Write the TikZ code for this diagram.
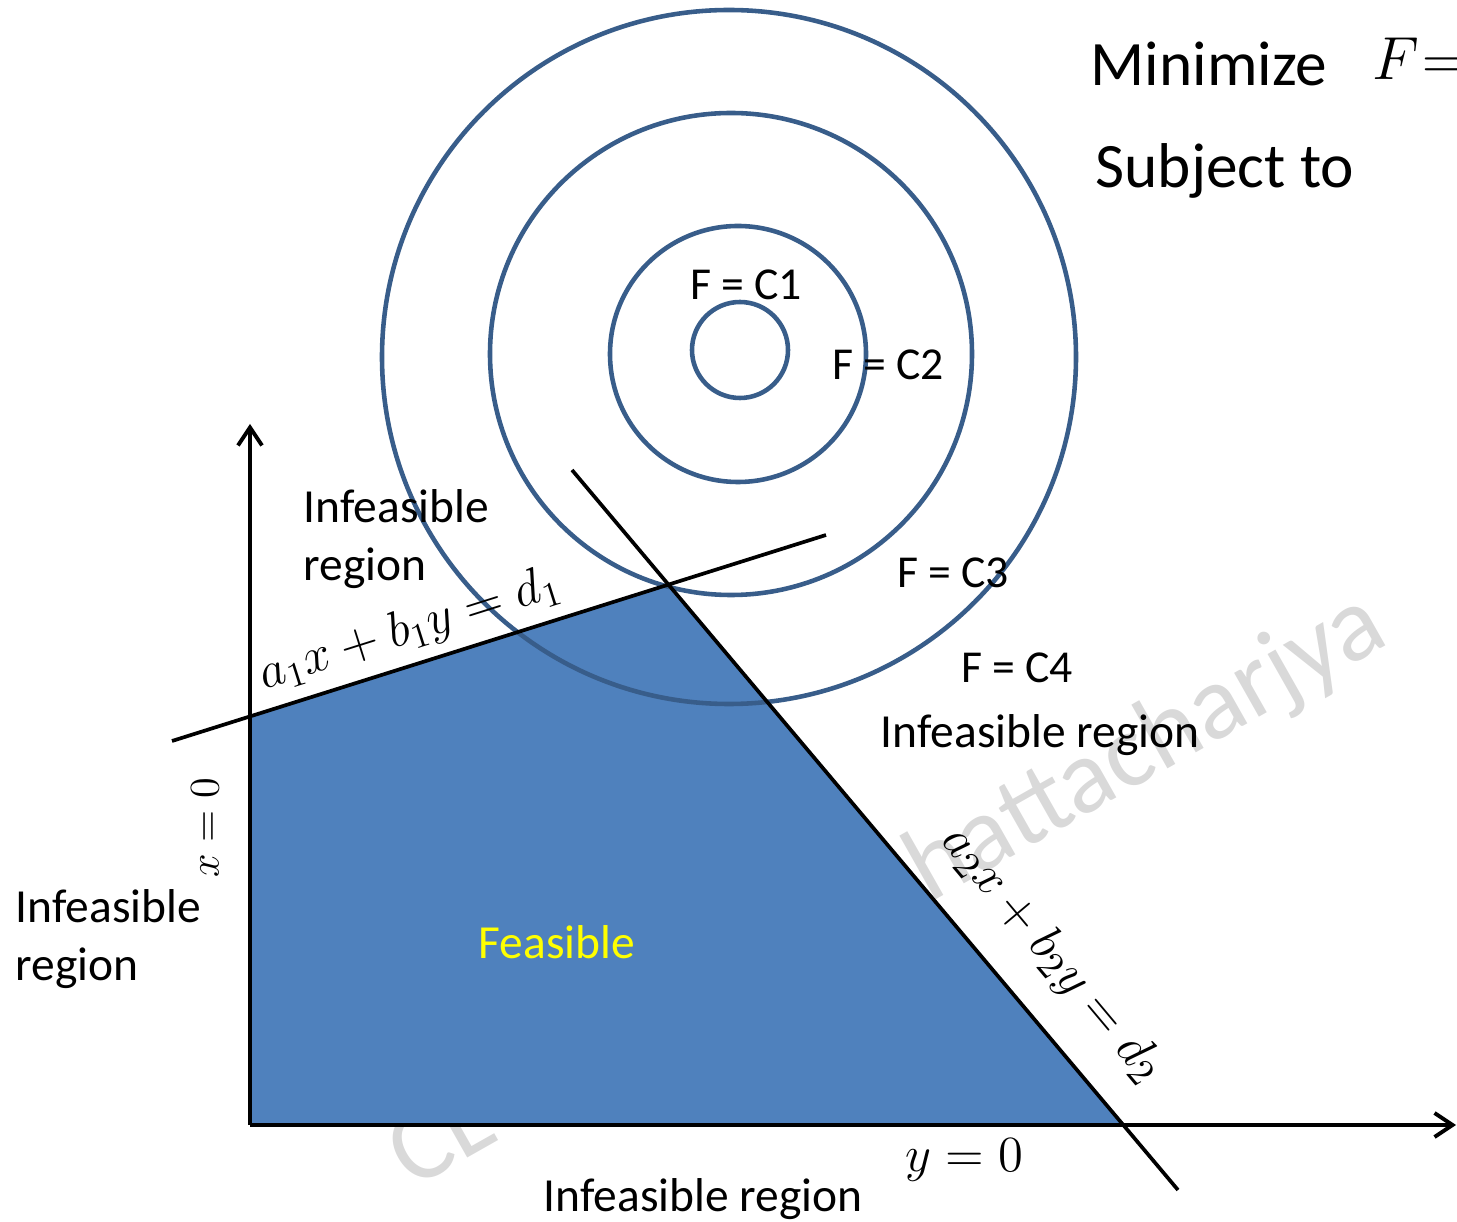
\documentclass[tikz,border=0pt]{standalone}
\usepackage{fontspec}
\setmainfont{Carlito}
\usetikzlibrary{arrows.meta}
\definecolor{feasBlue}{HTML}{4F81BD}
\definecolor{ringBlue}{HTML}{385D8A}
\definecolor{markGray}{HTML}{D9D9D9}
\definecolor{feasYellow}{HTML}{FFFF00}

\begin{document}
\begin{tikzpicture}[
  x=0.01cm, y=-0.01cm,
  txt/.style={font=\fontsize{13.5}{16.5}\selectfont,inner sep=0pt},
  ctxt/.style={font=\fontsize{13}{16}\selectfont,inner sep=0pt},
  bigtxt/.style={font=\fontsize{18}{21}\selectfont,inner sep=0pt},
  eqn/.style={font=\fontsize{14.5}{17}\selectfont,inner sep=0pt},
  ring/.style={draw=ringBlue,line width=1.3pt},
  cons/.style={draw=black,line width=1.05pt},
  axis/.style={draw=black,line width=1.1pt,-{Straight Barb[length=1.8mm,width=2.4mm]}},
  wmark/.style={font=\fontsize{30}{36}\selectfont,text=markGray,rotate=29.5,inner sep=0pt}
]
  \useasboundingbox (0,0) rectangle (1457,1222);

  % watermark, under the feasible set
  \node[wmark,anchor=base west] (wmA) at (412,1190) {CL};
  \node[wmark,anchor=base east] (wmB) at (1392,642) {hattacharjya};

  \coordinate (O) at (250,1125);
  \coordinate (yTop) at (250,424);
  \coordinate (xEnd) at (1456,1125);
  \coordinate (l1s) at (172,741);
  \coordinate (l1e) at (826,535);
  \coordinate (l2s) at (572,470);
  \coordinate (l2e) at (1178,1190);
  \coordinate (pA) at (250,716);
  \coordinate (pK) at (668,585);
  \coordinate (pB) at (1125,1125);

  \fill[feasBlue] (O) -- (pA) -- (pK) -- (pB) -- cycle;

  % contours of F
  \foreach \cx/\cy/\r in {740/350/48, 738/354/128, 731/354/241, 729/357/347}
    \draw[ring] (\cx,\cy) circle[radius=\r];

  \draw[cons] (l1s) -- (l1e);
  \draw[cons] (l2s) -- (l2e);
  \draw[axis] (O) -- (yTop);
  \draw[axis] (O) -- (xEnd);

  \node[bigtxt,anchor=base west] (minz) at (1090,86) {Minimize};
  \node[bigtxt,anchor=base west,font=\fontsize{16}{19}\selectfont] (fObj) at (1372,80) {$F\mkern1mu{=}$};
  \node[bigtxt,anchor=base west] (subj) at (1095,188) {Subject to};

  \foreach \x/\y/\k in {746/300/1, 888/380/2, 953/588/3, 1017/683/4}
    \node[ctxt,anchor=base] (fc\k) at (\x,\y) {F = C\k};

  \node[txt,anchor=west,align=left] (infUp) at (303,539) {Infeasible\\region};
  \node[txt,anchor=west,align=left] (infLeft) at (15,939) {Infeasible\\region};
  \node[txt,anchor=base west] (infRight) at (880,748) {Infeasible region};
  \node[txt,anchor=base west] (infLow) at (543,1211) {Infeasible region};
  \node[txt,text=feasYellow] (feas) at (557,942) {Feasible};

  \node[eqn,rotate=17.5] (eqA) at (410,630) {$a_1x+b_1y=d_1$};
  \node[eqn,rotate=-50,font=\fontsize{15.5}{18}\selectfont] (eqB) at (1052,955) {$a_2x+b_2y=d_2$};
  \node[eqn,anchor=base west] (yZero) at (905,1172) {$y=0$};
  \node[ctxt,rotate=90] (xZero) at (205,828) {$x=0$};
\end{tikzpicture}
\end{document}
